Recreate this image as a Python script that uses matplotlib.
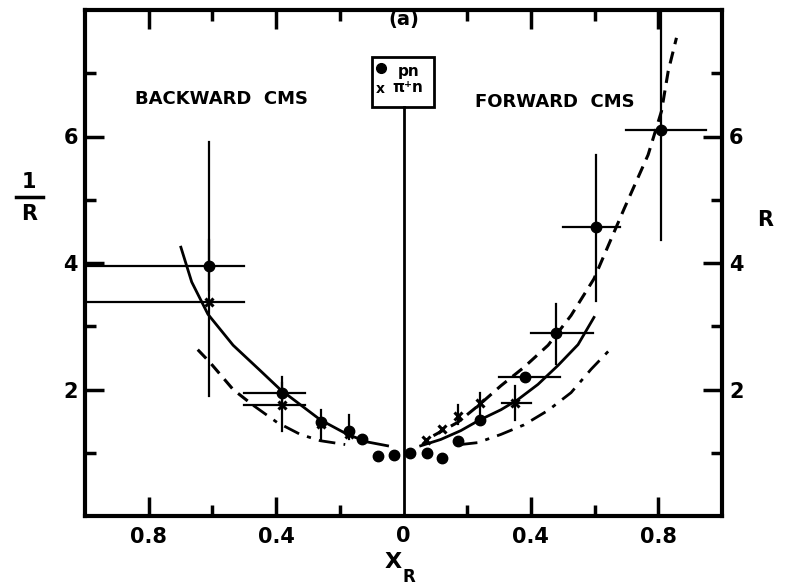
import matplotlib.pyplot as plt
from matplotlib.patches import Rectangle
from matplotlib.lines import Line2D

# data (x < 0 = backward cms, plotted as |x|)
pn_x = [-0.61, -0.38, -0.26, -0.17, -0.13, -0.08, -0.03, 0.02, 0.075, 0.12, 0.17, 0.24, 0.38, 0.48, 0.605, 0.81]
pn_y = [3.95, 1.95, 1.48, 1.35, 1.22, 0.95, 0.97, 1.0, 1.0, 0.92, 1.19, 1.52, 2.19, 2.9, 4.57, 6.1]

pin_x = [-0.61, -0.38, -0.26, -0.17, 0.07, 0.12, 0.17, 0.24, 0.35]
pin_y = [3.38, 1.75, 1.45, 1.3, 1.2, 1.37, 1.58, 1.79, 1.79]

# error bars: (x, y, x_lo, x_hi, y_lo, y_hi)
err_x = [-0.61, -0.61, -0.38, -0.38, -0.26, -0.17, 0.17, 0.24, 0.38, 0.35, 0.48, 0.605, 0.81]
err_y = [3.95, 3.38, 1.95, 1.75, 1.48, 1.35, 1.58, 1.79, 2.19, 1.79, 2.9, 4.57, 6.1]
err_xlo = [-1.0, -1.0, -0.50, -0.50, -0.26, -0.17, 0.17, 0.24, 0.30, 0.31, 0.40, 0.50, 0.70]
err_xhi = [-0.50, -0.50, -0.31, -0.31, -0.26, -0.17, 0.17, 0.24, 0.49, 0.40, 0.595, 0.68, 0.95]
err_ylo = [3.57, 1.90, 1.70, 1.35, 1.21, 1.21, 1.45, 1.62, 2.19, 1.52, 2.40, 3.40, 4.37]
err_yhi = [4.37, 5.92, 2.19, 2.10, 1.67, 1.59, 1.75, 1.95, 2.19, 2.06, 3.35, 5.70, 8.2]

# fitted curves
solid_lx = [-0.699, -0.665, -0.614, -0.535, -0.450, -0.387, -0.261, -0.176, -0.113, -0.050]
solid_ly = [4.25, 3.70, 3.19, 2.70, 2.30, 2.00, 1.52, 1.29, 1.17, 1.11]
solid_rx = [0.054, 0.117, 0.18, 0.236, 0.306, 0.359, 0.422, 0.485, 0.548, 0.598]
solid_ry = [1.11, 1.21, 1.35, 1.51, 1.68, 1.84, 2.08, 2.38, 2.71, 3.14]
dash_x = [0.094, 0.17, 0.236, 0.306, 0.378, 0.454, 0.526, 0.598, 0.693, 0.768, 0.81, 0.831, 0.857]
dash_y = [1.27, 1.48, 1.75, 2.06, 2.35, 2.70, 3.17, 3.75, 4.86, 5.71, 6.40, 7.03, 7.56]
dashl_x = [-0.646, -0.608, -0.535, -0.472]
dashl_y = [2.63, 2.43, 2.00, 1.75]
dd_lx = [-0.472, -0.397, -0.324, -0.261, -0.183]
dd_ly = [1.75, 1.48, 1.29, 1.19, 1.13]
dd_rx = [0.18, 0.233, 0.306, 0.378, 0.454, 0.526, 0.589, 0.646]
dd_ry = [1.13, 1.16, 1.29, 1.44, 1.67, 1.95, 2.32, 2.62]

fig = plt.figure(figsize=(7.88, 5.88), dpi=100)
ax = fig.add_axes([85/788, 1-516/588, (722-85)/788, (516-10)/588])

ax.plot(solid_lx, solid_ly, 'k-', lw=2)
ax.plot(solid_rx, solid_ry, 'k-', lw=2)
ax.plot(dash_x, dash_y, 'k', lw=2.2, dashes=(4, 2.5))
ax.plot(dashl_x, dashl_y, 'k', lw=2.2, dashes=(4, 2.5))
ax.plot(dd_lx, dd_ly, 'k', lw=2, dashes=(6, 3, 1.5, 3))
ax.plot(dd_rx, dd_ry, 'k', lw=2, dashes=(6, 3, 1.5, 3))

for x, y, xl, xh, yl, yh in zip(err_x, err_y, err_xlo, err_xhi, err_ylo, err_yhi):
    if xh > xl:
        ax.plot([xl, xh], [y, y], 'k-', lw=1.6)
    if yh > yl:
        ax.plot([x, x], [yl, yh], 'k-', lw=1.6)

ax.plot(pn_x, pn_y, 'ko', ms=7.5)
ax.plot(pin_x, pin_y, 'kx', ms=6, mew=2.2)

# centre line and legend box
ax.plot([0, 0], [0, 6.46], 'k-', lw=2)
ax.add_patch(Rectangle((-0.10, 6.46), 0.195, 0.80, fill=False, ec='k', lw=2))
ax.plot([-0.072], [7.08], 'ko', ms=7)
ax.text(-0.072, 6.75, 'x', ha='center', va='center', fontsize=10, fontweight='bold')
ax.text(0.015, 7.03, 'pn', ha='center', va='center', fontsize=11, fontweight='bold')
ax.text(0.015, 6.78, 'π⁺n', ha='center', va='center', fontsize=11, fontweight='bold')

ax.text(0, 7.85, '(a)', ha='center', va='center', fontsize=14, fontweight='bold')
ax.text(-0.57, 6.6, 'BACKWARD  CMS', ha='center', va='center', fontsize=13, fontweight='bold')
ax.text(0.476, 6.55, 'FORWARD  CMS', ha='center', va='center', fontsize=13, fontweight='bold')

ax.set_xlim(-1.0, 1.0)
ax.set_ylim(0, 8)
ax.set_xticks([-0.8, -0.4, 0.4, 0.8])
ax.set_xticklabels(['0.8', '0.4', '0.4', '0.8'])
ax.set_xticks([-0.6, -0.2, 0.2, 0.6], minor=True)
ax.text(0, -0.04, '0', transform=ax.get_xaxis_transform(), ha='center', va='center',
        fontsize=15, fontweight='bold')
ax.set_yticks([2, 4, 6])
ax.set_yticks([1, 3, 5, 7], minor=True)
ax.tick_params(which='both', direction='in', width=2.5, top=True, right=True,
               labelright=True, labelsize=15, pad=8)
ax.tick_params(axis='y', which='major', pad=5)
ax.tick_params(which='major', length=14)
ax.tick_params(which='minor', length=8)
for lab in ax.get_xticklabels() + ax.get_yticklabels():
    lab.set_fontweight('bold')
for t in ax.yaxis.get_major_ticks():
    t.label2.set_fontweight('bold')
for s in ax.spines.values():
    s.set_linewidth(3)

# axis labels
fig.text(29/788, 1-182/588, '1', ha='center', va='center', fontsize=15, fontweight='bold')
fig.add_artist(Line2D([16/788, 43/788], [1-197/588, 1-197/588], color='k', lw=2.5))
fig.text(29/788, 1-214/588, 'R', ha='center', va='center', fontsize=15, fontweight='bold')
fig.text(765/788, 1-220/588, 'R', ha='center', va='center', fontsize=15, fontweight='bold')
fig.text(393/788, 1-562/588, 'X', ha='center', va='center', fontsize=16, fontweight='bold')
fig.text(409/788, 1-577/588, 'R', ha='center', va='center', fontsize=12, fontweight='bold')

fig.savefig('out.png', dpi=100)
